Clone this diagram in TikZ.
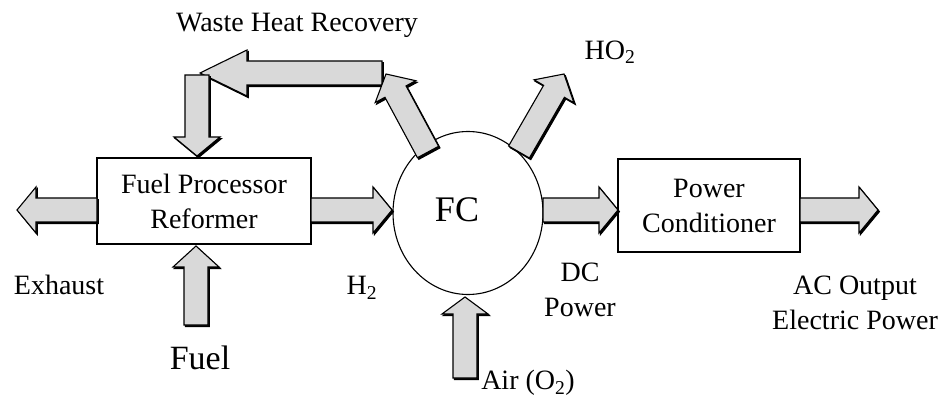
\documentclass[tikz,border=0pt]{standalone}
\usepackage{fontspec}
\setmainfont{Liberation Serif}
\usetikzlibrary{calc,shapes.geometric}
\tikzset{
  box/.style={draw, line width=1.1pt, align=center, inner sep=0pt},
  lbl/.style={align=center, inner sep=0pt, font=\fontsize{28}{35}\selectfont},
  barrow/.style={draw=black, fill=gray!30, line width=1.1pt, line join=miter},
  bshadow/.style={draw=black, fill=black, line width=1.1pt, line join=miter},
}
\newcommand\blockarrow[3][19pt]{%
  \coordinate (bac) at ($(#3)!#1!(#2)$);
  \begin{scope}[transform canvas={shift={(1.4pt,-1.6pt)}}]
  \filldraw[bshadow] ($(#2)!12pt!90:(#3)$) -- ($(bac)!12pt!90:(#3)$) -- ($(bac)!23pt!90:(#3)$) -- (#3) -- ($(bac)!23pt!-90:(#3)$) -- ($(bac)!12pt!-90:(#3)$) -- ($(#2)!12pt!-90:(#3)$) -- cycle;
  \end{scope}
  \filldraw[barrow] ($(#2)!12pt!90:(#3)$) -- ($(bac)!12pt!90:(#3)$) -- ($(bac)!23pt!90:(#3)$) -- (#3) -- ($(bac)!23pt!-90:(#3)$) -- ($(bac)!12pt!-90:(#3)$) -- ($(#2)!12pt!-90:(#3)$) -- cycle;}
\begin{document}
\begin{tikzpicture}[x=1pt,y=-1pt]
\useasboundingbox[fill=white] (0,0) rectangle (943,398);
% main blocks
\node[box, minimum width=214pt, minimum height=86pt, lbl] (fp) at (204,201) {Fuel Processor\\Reformer};
\node[box, minimum width=182pt, minimum height=93pt, lbl] (pc) at (709,205.5) {Power\\Conditioner};
\node[draw, ellipse, line width=1.1pt, minimum width=150pt, minimum height=163pt, inner sep=0pt] (fc) at (468,213) {};
\node[lbl, font=\fontsize{36}{40}\selectfont] (fct) at (457,210) {FC};
% arrow end points
\coordinate (exS) at (97,210);  \coordinate (exE) at (17,210);
\coordinate (h2S) at (311,210); \coordinate (h2E) at (392,210);
\coordinate (dcS) at (543,210); \coordinate (dcE) at (618,210);
\coordinate (acS) at (800,210); \coordinate (acE) at (878,210);
\coordinate (fuS) at (196,325); \coordinate (fuE) at (196,246);
\coordinate (aiS) at (465,378); \coordinate (aiE) at (465,297);
\coordinate (wdS) at (197,75);  \coordinate (wdE) at (197,156);
\coordinate (wlS) at (382,73);  \coordinate (wlE) at (200,73);
\coordinate (anS) at (428,152); \coordinate (anE) at (386,74);
\coordinate (hoS) at (519,152); \coordinate (hoE) at (564,74);
% block arrows
\blockarrow{exS}{exE}
\blockarrow{h2S}{h2E}
\blockarrow{dcS}{dcE}
\blockarrow{acS}{acE}
\blockarrow[21pt]{fuS}{fuE}
\blockarrow[17pt]{aiS}{aiE}
\blockarrow[47pt]{wlS}{wlE}
\blockarrow{wdS}{wdE}
\blockarrow[20pt]{anS}{anE}
\blockarrow[20pt]{hoS}{hoE}
% labels
\node[lbl] (wh) at (297,25) {Waste Heat Recovery};
\node[lbl] (ho) at (610,52) {HO\textsubscript{2}};
\node[lbl] (ex) at (59,285) {Exhaust};
\node[lbl] (h2) at (362,288) {H\textsubscript{2}};
\node[lbl, font=\fontsize{34}{38}\selectfont] (fu) at (200,358) {Fuel};
\node[lbl] (dc) at (580,290) {DC\\Power};
\node[lbl] (ai) at (528,383) {Air (O\textsubscript{2})};
\node[lbl] (ac) at (855,303) {AC Output\\Electric Power};
\end{tikzpicture}
\end{document}
